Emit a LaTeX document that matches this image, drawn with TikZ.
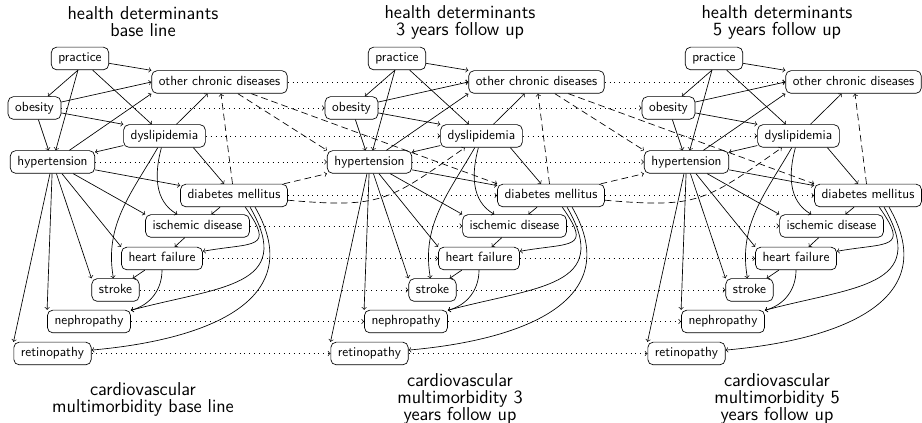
\documentclass[tikz,border=0pt]{standalone}
\begin{document}
\begin{tikzpicture}[x=0.75pt,y=-0.75pt,
  var/.style={draw, rounded corners=4pt, inner xsep=5.3pt, inner ysep=4pt,
    text height=7pt, text depth=2pt, line width=0.5pt,
    font=\sffamily\fontsize{10}{12}\selectfont},
  heading/.style={align=center, inner sep=0pt,
    font=\sffamily\fontsize{14}{12.8}\selectfont},
  edge/.style={->, line width=0.5pt},
  lagged/.style={->, line width=0.5pt, dash pattern=on 5pt off 3pt},
  carry/.style={->, line width=0.5pt, dash pattern=on 0.5pt off 3.2pt}]
\useasboundingbox (0,0) rectangle (922,423);

% one time slice of the network
\foreach \s/\dx in {1/0,2/317,3/634}{
  \node[var] (prac\s)   at (\dx+80,58.5)    {practice};
  \node[var] (ocd\s)    at (\dx+219.5,82)   {other chronic diseases};
  \node[var] (obes\s)   at (\dx+34.5,108)   {obesity};
  \node[var] (dysl\s)   at (\dx+164.5,136)  {dyslipidemia};
  \node[var] (hyp\s)    at (\dx+52.5,162)   {hypertension};
  \node[var] (diab\s)   at (\dx+234,195.5)  {diabetes mellitus};
  \node[var] (isch\s)   at (\dx+197.5,226)  {ischemic disease};
  \node[var] (hf\s)     at (\dx+162,258.5)  {heart failure};
  \node[var] (stroke\s) at (\dx+115.5,290)  {stroke};
  \node[var] (neph\s)   at (\dx+89,321.5)   {nephropathy};
  \node[var] (retino\s) at (\dx+52.5,353.5) {retinopathy};

  \draw[edge] (prac\s) -- (ocd\s.north west);
  \draw[edge] (prac\s.-100) -- (obes\s);
  \draw[edge] (prac\s.-100) -- (hyp\s);
  \draw[edge] (prac\s) -- (dysl\s);
  \draw[edge] (obes\s) -- (ocd\s.west);
  \draw[edge] (obes\s) -- (dysl\s.north west);
  \draw[edge] (obes\s) -- (hyp\s);
  \draw[edge] (hyp\s) -- (ocd\s.south west);
  \draw[edge] (dysl\s) -- (hyp\s);
  \draw[edge] (dysl\s) -- (ocd\s);
  \draw[edge] (dysl\s.-22) -- (diab\s);
  \draw[edge] (hyp\s) -- (diab\s);
  \draw[lagged] (diab\s) -- (ocd\s);
  \draw[edge] (hyp\s) -- (retino\s.north west);
  \draw[edge] (hyp\s) -- (neph\s.north west);
  \draw[edge] (hyp\s) -- (stroke\s.north west);
  \draw[edge] (hyp\s) -- (hf\s.north west);
  \draw[edge] (hyp\s) -- (isch\s.north west);
  \draw[edge] (dysl\s) to[out=-120,in=100] (stroke\s);
  \draw[edge] (dysl\s) to[out=-105,in=150] (isch\s);
  \draw[edge] (diab\s) -- (isch\s);
  \draw[edge] (isch\s) -- (hf\s);
  \draw[edge] (hf\s) -- (stroke\s);
  \draw[edge] (hf\s) to[out=-90,in=15] (neph\s);
  \draw[edge] (diab\s.-46) to[out=-55,in=10,looseness=2.2] (hf\s);
  \draw[edge] (diab\s.-36) to[out=-60,in=15,looseness=1.5] (neph\s);
  \draw[edge] (diab\s.-29) to[out=-60,in=5,looseness=1.3] (retino\s);
}

% links from one slice to the next
\foreach \s/\t in {1/2,2/3}{
  \foreach \v in {ocd,obes,dysl,hyp,diab,isch,hf,stroke,neph,retino}
    \draw[carry] (\v\s.east) -- (\v\t.west);
  \draw[lagged] (ocd\s) -- (hyp\t.north west);
  \draw[lagged] (ocd\s) -- (diab\t.north west);
  \draw[lagged] (diab\s) -- (hyp\t.south west);
  \draw[lagged] (diab\s) to[out=-5,in=-145,looseness=1.3] (dysl\t);
}

% headings
\node[heading] (top1) at (143,22) {health determinants\\base line};
\node[heading] (top2) at (460,22) {health determinants\\3 years follow up};
\node[heading] (top3) at (777,22) {health determinants\\5 years follow up};
\node[heading] (bot1) at (143,399) {cardiovascular\\multimorbidity base line};
\node[heading] (bot2) at (460,399) {cardiovascular\\multimorbidity 3\\years follow up};
\node[heading] (bot3) at (777,399) {cardiovascular\\multimorbidity 5\\years follow up};
\end{tikzpicture}
\end{document}
